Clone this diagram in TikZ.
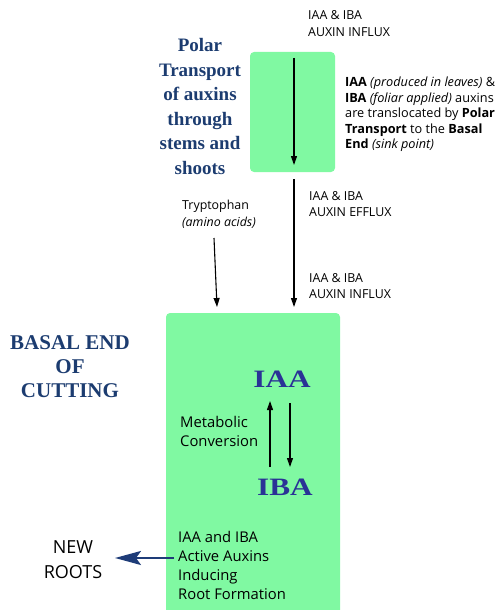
\documentclass[tikz,border=0pt]{standalone}
\usepackage{fontspec}
\setmainfont{Open Sans}
\newfontfamily\titlefont{Liberation Serif}
\newfontfamily\bigserif[FakeStretch=1.25]{Liberation Serif}
\usetikzlibrary{arrows.meta}
\definecolor{boxgreen}{HTML}{80F9A2}
\definecolor{titleblue}{HTML}{1C3C70}
\definecolor{bigblue}{HTML}{2A3296}
\definecolor{arrowblue}{HTML}{1E3C78}
\begin{document}
\begin{tikzpicture}[x=1pt,y=-1pt,
  greenbox/.style={fill=boxgreen,draw=none,rounded corners=4pt},
  flow/.style={-{Triangle[length=9pt,width=6pt]},line width=1.1pt,black},
  smalltxt/.style={inner sep=0pt,align=left,anchor=base west,font=\fontsize{12.4}{16.2}\selectfont},
  titletxt/.style={inner sep=0pt,align=center,anchor=base,text=titleblue,font=\titlefont\bfseries\fontsize{19}{24.5}\selectfont},
  bigtxt/.style={inner sep=0pt,anchor=base,text=bigblue,font=\bigserif\bfseries\fontsize{25}{30}\selectfont},
  midtxt/.style={inner sep=0pt,align=left,anchor=base west,font=\fontsize{14.8}{19}\selectfont}]
\useasboundingbox (0,0) rectangle (498,610);
% boxes
\node[greenbox,minimum width=85pt,minimum height=120pt,inner sep=0pt] (topbox) at (292.5,112) {};
\path[greenbox] (166,313) rectangle (340,615);
\coordinate (bottomtop) at (294,307);
% top texts (base anchor = baseline of the last line)
\node[smalltxt] (influxtop) at (308,36.2) {IAA \& IBA\\AUXIN INFLUX};
\node[smalltxt,font=\fontsize{12.7}{15.5}\selectfont] (transl) at (345,148.5)
  {\textbf{IAA} \textit{(produced in leaves)} \&\\\textbf{IBA} \textit{(foliar applied)} auxins\\are translocated by \textbf{Polar}\\\textbf{Transport} to the \textbf{Basal}\\\textbf{End} \textit{(sink point)}};
\node[titletxt] (polar) at (200,174) {Polar\\Transport\\of auxins\\through\\stems and\\shoots};
% arrows top
\coordinate (ta) at (294,58);
\coordinate (tb) at (294,165);
\draw[flow] (ta) -- (tb);
\coordinate (ea) at (294,179);
\draw[flow] (ea) -- (bottomtop);
\node[smalltxt,font=\fontsize{12.4}{16.8}\selectfont] (efflux) at (309,216.8) {IAA \& IBA\\AUXIN EFFLUX};
\node[smalltxt,font=\fontsize{12.4}{16.8}\selectfont] (influx2) at (309,298.8) {IAA \& IBA\\AUXIN INFLUX};
\node[smalltxt,font=\fontsize{12.4}{17}\selectfont] (tryp) at (182,226.5) {Tryptophan\\\textit{(amino acids)}};
\coordinate (tra) at (214,238);
\coordinate (trb) at (217,307);
\draw[flow] (tra) -- (trb);
% bottom
\node[titletxt,font=\titlefont\bfseries\fontsize{21}{24}\selectfont] (basal) at (70,397) {BASAL END\\OF\\CUTTING};
\node[bigtxt] (iaa) at (282,387) {IAA};
\node[bigtxt] (iba) at (285,495) {IBA};
\coordinate (ua) at (270,467);
\coordinate (ub) at (270,401);
\coordinate (da) at (290,403);
\coordinate (db) at (290,467);
\draw[flow] (ua) -- (ub);
\draw[flow] (da) -- (db);
\node[midtxt] (meta) at (180,446) {Metabolic\\Conversion};
\node[midtxt] (active) at (178,599) {IAA and IBA\\Active Auxins\\Inducing\\Root Formation};
\node[inner sep=0pt,align=center,anchor=base,font=\fontsize{18}{25}\selectfont] (roots) at (73,578) {NEW\\ROOTS};
\coordinate (ra) at (174,558);
\coordinate (rb) at (115,558);
\draw[-{Stealth[length=26pt,width=14pt,inset=5pt]},line width=2.2pt,arrowblue] (ra) -- (rb);
\end{tikzpicture}
\end{document}
